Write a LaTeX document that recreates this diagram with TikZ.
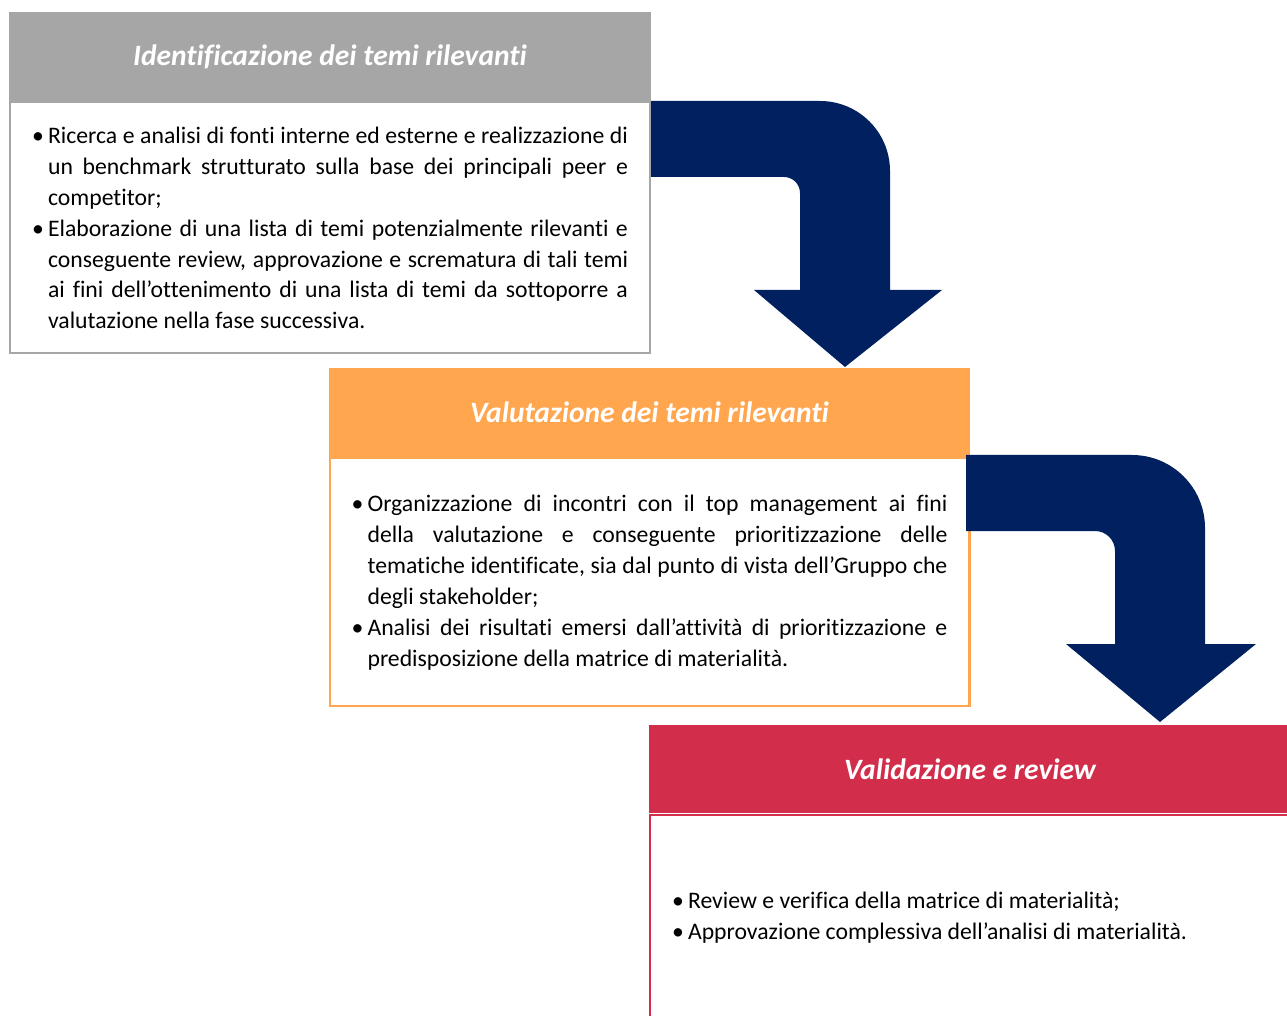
\documentclass[tikz,border=0pt]{standalone}
\usepackage{fontspec}
\setmainfont{Carlito}[Ligatures=NoCommon]
\usetikzlibrary{positioning}
\definecolor{phasegray}{HTML}{A6A6A6}
\definecolor{phaseorange}{HTML}{FFA64F}
\definecolor{phasered}{HTML}{D22E4C}
\definecolor{arrownavy}{HTML}{002060}
\hyphenpenalty=10000
\exhyphenpenalty=10000
\tolerance=10000
\newcommand{\bul}[1]{\noindent\hangindent=0.32cm\hangafter=1\makebox[0.32cm][l]{\textbullet}#1\par}
\begin{document}
\begin{tikzpicture}[x=0.02cm, y=0.02cm,
        head/.style = {minimum width=12.84cm, minimum height=1.78cm,
            inner sep=0pt, text=white,
            font=\fontsize{16.8}{20}\selectfont\bfseries\itshape},
        body/.style = {draw, line width=1.2pt, fill=white,
            minimum width=12.8cm, inner xsep=0pt, text width=11.92cm,
            align=justify,
            font=\fontsize{13.5}{17.64}\selectfont}]
    \useasboundingbox (0,0) rectangle (1287,1015);
    % phase 1
    \node[head, fill=phasegray] (hd1) at (330,958.5) {Identificazione dei temi rilevanti};
    \node[body, draw=phasegray, minimum height=5.02cm, below=0pt of hd1] (bd1) {%
        \bul{Ricerca e analisi di fonti interne ed esterne e realizzazione di\linebreak
        un benchmark strutturato sulla base dei principali peer e\linebreak
        competitor;}
        \bul{Elaborazione di una lista di temi potenzialmente rilevanti e\linebreak
        conseguente review, approvazione e scrematura di tali temi\linebreak
        ai fini dell’ottenimento di una lista di temi da sottoporre a\linebreak
        valutazione nella fase successiva.}
        \vspace{0.34cm}};
    % phase 2
    \node[head, fill=phaseorange] (hd2) at (649.5,602.5) {Valutazione dei temi rilevanti};
    \node[body, draw=phaseorange, minimum height=4.96cm, below=0pt of hd2] (bd2) {%
        \bul{Organizzazione di incontri con il top management ai fini\linebreak
        della valutazione e conseguente prioritizzazione delle\linebreak
        tematiche identificate, sia dal punto di vista dell’Gruppo che\linebreak
        degli stakeholder;}
        \bul{Analisi dei risultati emersi dall’attività di prioritizzazione e\linebreak
        predisposizione della matrice di materialità.}
        \vspace{0.3cm}};
    % phase 3
    \node[head, fill=phasered] (hd3) at (970,246) {Validazione e review};
    \node[body, draw=phasered, minimum height=4.12cm, below=0pt of hd3] (bd3) {%
        \bul{Review e verifica della matrice di materialità;}
        \bul{Approvazione complessiva dell’analisi di materialità.}
        \vspace{0.26cm}};
    % bent arrows
    \fill[arrownavy] (651,914) -- (820,914) arc[start angle=90, end angle=0, radius=70]
        -- (890,725) -- (942,725) -- (845,648) -- (754,725) -- (800,725)
        -- (800,822) arc[start angle=0, end angle=90, radius=16] -- (651,838) -- cycle;
    \fill[arrownavy] (966,560) -- (1132,560) arc[start angle=90, end angle=0, radius=73]
        -- (1205,371) -- (1256,371) -- (1160,293) -- (1066,371) -- (1115,371)
        -- (1115,464) arc[start angle=0, end angle=90, radius=20] -- (966,484) -- cycle;
\end{tikzpicture}
\end{document}
